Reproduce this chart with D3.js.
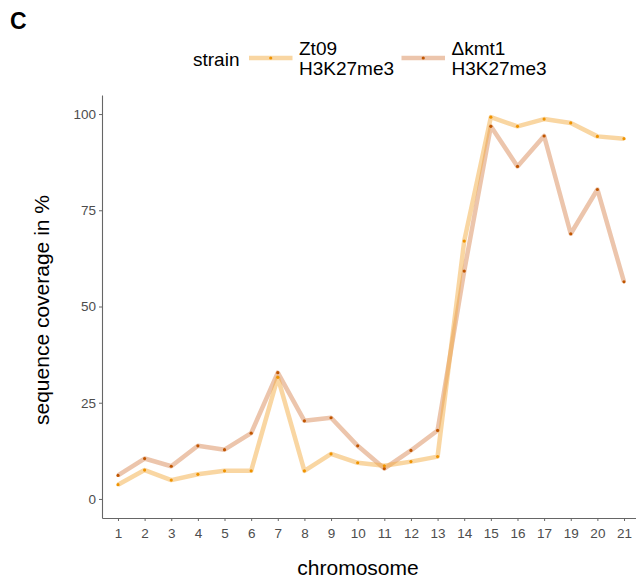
<!DOCTYPE html>
<html>
<head>
<meta charset="utf-8">
<script src="https://cdn.jsdelivr.net/npm/d3@7"></script>
<style>
  body { margin: 0; background: #fff; }
  svg { font-family: "Liberation Sans", Arial, sans-serif; display: block; }
</style>
</head>
<body>
<div id="chart"></div>
<script>
const chromosomes = ["1","2","3","4","5","6","7","8","9","10","11","12","13","14","15","16","17","19","20","21"];
const zt09 = [3.7, 7.5, 4.9, 6.4, 7.3, 7.3, 31.6, 7.3, 11.7, 9.4, 8.6, 9.7, 11.0, 67.0, 99.2, 96.8, 98.7, 97.7, 94.2, 93.6];
const kmt1 = [6.1, 10.5, 8.5, 13.8, 12.8, 17.1, 32.8, 20.3, 21.1, 13.8, 7.9, 12.6, 17.8, 59.2, 96.8, 86.4, 94.3, 68.9, 80.4, 56.4];
const yTicks = [0, 25, 50, 75, 100];

const series = [
    {name: ["Zt09", "H3K27me3"], values: zt09, line: "#f3ad45", lineOpacity: 0.5, point: "#ef9300"},
    {name: ["\u0394kmt1", "H3K27me3"], values: kmt1, line: "#d06e30", lineOpacity: 0.4, point: "#c05500"}
];
// draw kmt1 first so Zt09 sits on top
const drawOrder = [series[1], series[0]];

let width = 636;
let height = 580;
let margin = ({top: 95, right: -4, bottom: 62, left: 102});

let x = d3.scalePoint()
    .domain(chromosomes)
    .range([margin.left, width - margin.right])
    .padding(0.6);

let y = d3.scaleLinear()
    .domain([-4.95, 104.95])
    .range([518, 95]);

const svg = d3.select("#chart").append("svg")
    .attr("width", width)
    .attr("height", height);

// panel label
svg.append("text")
    .attr("x", 10).attr("y", 28.5)
    .attr("font-size", 23).attr("font-weight", "bold")
    .text("C");

// axes
let xAxis = g => g
    .attr("transform", `translate(0,518)`)
    .call(d3.axisBottom(x).tickSize(3).tickSizeOuter(0))
    .call(g => g.select(".domain").attr("stroke", "#666").attr("stroke-width", 1.1))
    .call(g => g.selectAll(".tick line").attr("stroke", "#666"))
    .call(g => g.selectAll(".tick text").attr("fill", "#4d4d4d").attr("font-size", 13.5).attr("dy", "1em"));

let yAxis = g => g
    .attr("transform", `translate(${margin.left},0)`)
    .call(d3.axisLeft(y).tickValues(yTicks).tickSize(3).tickSizeOuter(0))
    .call(g => g.select(".domain").attr("stroke", "#666").attr("stroke-width", 1.1))
    .call(g => g.selectAll(".tick line").attr("stroke", "#666"))
    .call(g => g.selectAll(".tick text").attr("fill", "#4d4d4d").attr("font-size", 13.5));

svg.append("g").attr("class", "x-axis").call(xAxis);
svg.append("g").attr("class", "y-axis").call(yAxis);

// lines
const line = d3.line()
    .x((d, i) => x(chromosomes[i]))
    .y(d => y(d));

svg.append("g")
    .attr("class", "lines")
    .selectAll("path")
    .data(drawOrder)
    .join("path")
        .attr("d", d => line(d.values))
        .attr("fill", "none")
        .attr("stroke", d => d.line)
        .attr("stroke-opacity", d => d.lineOpacity)
        .attr("stroke-width", 4.5)
        .attr("stroke-linejoin", "round");

drawOrder.forEach(s => {
    svg.append("g")
        .selectAll("circle")
        .data(s.values)
        .join("circle")
            .attr("cx", (d, i) => x(chromosomes[i]))
            .attr("cy", d => y(d))
            .attr("r", 1.6)
            .attr("fill", s.point);
});

// axis titles
svg.append("text")
    .attr("x", 358).attr("y", 575)
    .attr("text-anchor", "middle")
    .attr("font-size", 21)
    .text("chromosome");

svg.append("text")
    .attr("transform", "translate(48.5,310) rotate(-90)")
    .attr("text-anchor", "middle")
    .attr("font-size", 21)
    .text("sequence coverage in %");

// legend
const legend = svg.append("g").attr("class", "legend");
legend.append("text")
    .attr("x", 193).attr("y", 66)
    .attr("font-size", 19)
    .text("strain");

const keyX = [249, 401.5];
series.forEach((s, i) => {
    const g = legend.append("g").attr("transform", `translate(${keyX[i]},58)`);
    g.append("line")
        .attr("x1", 0).attr("x2", 43.5)
        .attr("stroke", s.line)
        .attr("stroke-opacity", s.lineOpacity)
        .attr("stroke-width", 4.5);
    g.append("circle").attr("cx", 21.75).attr("r", 1.6).attr("fill", s.point);
    g.append("text")
        .attr("x", 50).attr("y", -3)
        .attr("font-size", 19)
        .text(s.name[0]);
    g.append("text")
        .attr("x", 50).attr("y", 17)
        .attr("font-size", 19)
        .text(s.name[1]);
});
</script>
</body>
</html>
